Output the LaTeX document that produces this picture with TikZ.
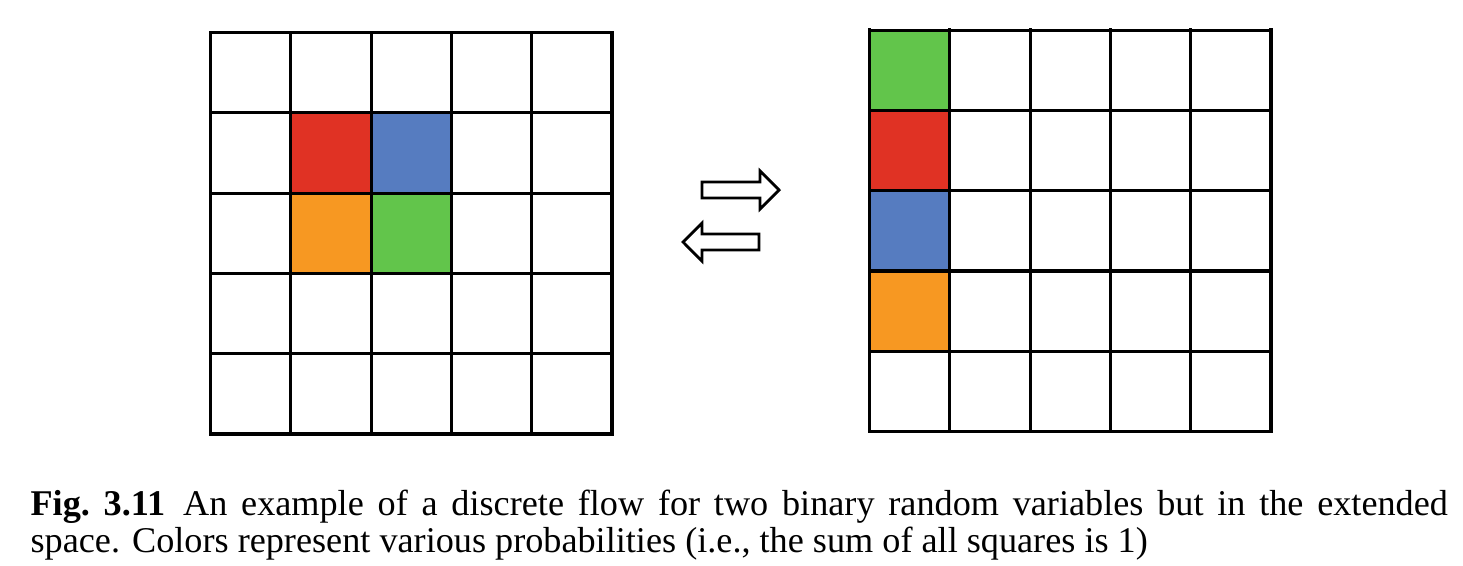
\documentclass[tikz,border=0pt]{standalone}
\usepackage{fontspec}
\setmainfont{Liberation Serif}

\definecolor{cellred}{RGB}{224,50,36}
\definecolor{cellblue}{RGB}{86,124,192}
\definecolor{cellgreen}{RGB}{98,197,75}
\definecolor{cellorange}{RGB}{247,152,34}

\tikzset{
    gridline/.style={line width=1.1pt, line cap=rect},
    flowarrow/.style={draw, line width=1pt, line join=miter, fill=white},
    caption/.style={inner sep=0pt, text width=17.65cm, align=justify,
        font=\fontsize{12.83pt}{13.1pt}\selectfont}
}

\begin{document}
\begin{tikzpicture}
\useasboundingbox (0,0) rectangle (18.219,-7.036);

% Original space
\begin{scope}[shift={(2.621,-5.405)}]
\foreach \x/\y/\color in {
    1/3/cellred,
    2/3/cellblue,
    1/2/cellorange,
    2/2/cellgreen} {
    \fill[fill=\color] (\x,\y) rectangle (\x+1,\y+1);
}
\draw[gridline] (0,0) grid (5,5);
\end{scope}

% Extended space
\begin{scope}[shift={(10.828,-5.374)}]
\foreach \y/\color in {
    4/cellgreen,
    3/cellred,
    2/cellblue,
    1/cellorange} {
    \fill[fill=\color] (0,\y) rectangle (1,\y+1);
}
\draw[gridline] (0,0) grid (5,5);
\end{scope}

% Flow arrows
\draw[flowarrow] (8.742,-2.266) -- (9.465,-2.266) -- (9.465,-2.129) -- (9.701,-2.366)
    -- (9.465,-2.603) -- (9.465,-2.466) -- (8.742,-2.466) -- cycle;
\draw[flowarrow] (9.452,-2.914) -- (8.742,-2.914) -- (8.742,-2.777) -- (8.506,-3.014)
    -- (8.742,-3.251) -- (8.742,-3.114) -- (9.452,-3.114) -- cycle;

\node[caption, anchor=north west] (caption) at (0.374,-6.089) {\hyphenpenalty=10000
    \textbf{Fig.\ 3.11}\enskip An example of a discrete flow for two binary random
    variables but in the extended\linebreak space. Colors represent various probabilities
    (i.e., the sum of all squares is 1)};
\end{tikzpicture}
\end{document}
